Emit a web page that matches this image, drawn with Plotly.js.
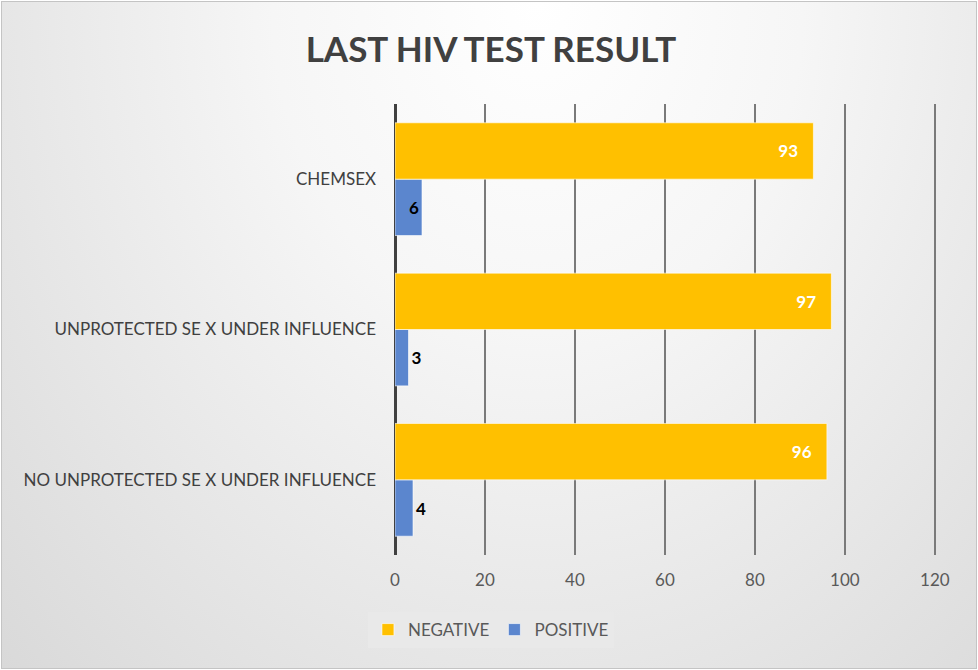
<!DOCTYPE html>
<html>
<head>
<meta charset="utf-8">
<script src="https://cdn.plot.ly/plotly-3.0.1.min.js"></script>
<style>
  body { margin: 0; background: #ffffff; }
  #chart {
    position: absolute; left: 1px; top: 1px;
    width: 974px; height: 666px;
    border: 1px solid #c4c4c4;
    background: radial-gradient(ellipse at 55% 0%, #ffffff 0%, #f6f6f6 35%, #d9d9d9 100%);
  }
</style>
</head>
<body>
<div id="chart"></div>
<script>
// categories listed bottom to top, as plotly draws them
var categories = ['NO UNPROTECTED SE X UNDER INFLUENCE', 'UNPROTECTED SE X UNDER INFLUENCE', 'CHEMSEX'];
var negative = [96, 97, 93];
var positive = [4, 3, 6];
var xTicks = [0, 20, 40, 60, 80, 100, 120];

var font = 'Lato, "Open Sans", sans-serif';

var positiveTrace = {
    type: 'bar',
    orientation: 'h',
    name: 'POSITIVE',
    y: categories,
    x: positive,
    text: positive.map(String),
    textposition: ['outside', 'outside', 'inside'],
    insidetextanchor: 'end',
    textfont: { family: font, size: 17, color: '#000000', weight: 'bold' },
    marker: { color: '#5B86CE', line: { color: 'rgba(255,255,255,0.6)', width: 1 } },
    legendrank: 2,
    cliponaxis: false,
    hoverinfo: 'x+name'
};

var negativeTrace = {
    type: 'bar',
    orientation: 'h',
    name: 'NEGATIVE',
    y: categories,
    x: negative,
    text: negative.map(function (v) { return v + '   '; }),
    textposition: 'inside',
    insidetextanchor: 'end',
    textfont: { family: font, size: 17, color: '#ffffff', weight: 'bold' },
    marker: { color: '#FFC000', line: { color: 'rgba(255,255,255,0.6)', width: 1 } },
    legendrank: 1,
    hoverinfo: 'x+name'
};

var data = [positiveTrace, negativeTrace];

var layout = {
    width: 974,
    height: 666,
    paper_bgcolor: 'rgba(0,0,0,0)',
    plot_bgcolor: 'rgba(0,0,0,0)',
    font: { family: font, size: 17, color: '#595959' },
    margin: { l: 393, r: 40, t: 102, b: 113 },
    title: {
        text: 'LAST HIV TEST RESULT',
        font: { family: font, size: 35, color: '#404040', weight: 'bold' },
        x: 0.502, xanchor: 'center', xref: 'container',
        y: 0.928, yanchor: 'middle', yref: 'container'
    },
    barmode: 'group',
    bargap: 0.25,
    bargroupgap: 0,
    xaxis: {
        range: [0, 120.25],
        tickvals: xTicks,
        showgrid: true,
        gridcolor: '#7a7a7a',
        gridwidth: 1.5,
        zeroline: true,
        zerolinecolor: '#404040',
        zerolinewidth: 3,
        ticks: '',
        ticklabelstandoff: 13,
        tickfont: { family: font, size: 17, color: '#595959' },
        fixedrange: true
    },
    yaxis: {
        showgrid: false,
        zeroline: false,
        ticks: '',
        ticklabelstandoff: 18,
        tickfont: { family: font, size: 17, color: '#404040' },
        fixedrange: true
    },
    showlegend: true,
    legend: {
        orientation: 'h',
        xref: 'container', yref: 'container',
        x: 0.502, xanchor: 'center',
        y: 0.057, yanchor: 'middle',
        bgcolor: '#e9e9e9',
        font: { family: font, size: 17, color: '#595959' },
        itemwidth: 30
    }
};

var config = { responsive: false, displayModeBar: false };

Plotly.newPlot('chart', data, layout, config);
</script>
</body>
</html>
